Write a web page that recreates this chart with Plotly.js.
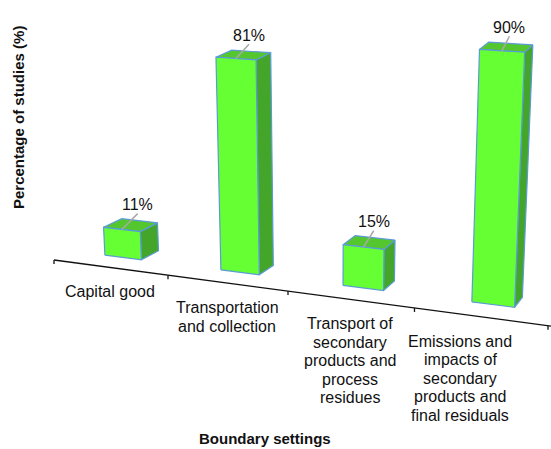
<!DOCTYPE html>
<html>
<head>
<meta charset="utf-8">
<script src="https://cdn.plot.ly/plotly-3.0.1.min.js"></script>
<style>
  html, body { margin: 0; padding: 0; background: #fff; }
  #chart { width: 551px; height: 449px; }
</style>
</head>
<body>
<div id="chart"></div>
<script>
// ---- data ----
const categories = [
  "Capital good",
  "Transportation<br>and collection",
  "Transport of<br>secondary<br>products and<br>process<br>residues",
  "Emissions and<br>impacts of<br>secondary<br>products and<br>final residuals"
];
const percentages = [11, 81, 15, 90];
const xAxisTitle = "Boundary settings";
const yAxisTitle = "Percentage of studies (%)";

// ---- look ----
const W = 551, H = 449;
const FONT = "Liberation Sans, Arial, Helvetica, sans-serif";
const FRONT = "#66ff33", SIDE = "#43a62a", TOP = "#55c72e";
const EDGE = "#5b9bd5";
const LEADER = "#a8a8a8";

// ---- perspective projection of the 3-D column scene ----
// t : position along the category axis (0..n), d : depth of a column (0 front, 1 back),
// z : value in percent.
const AX0 = 54, AXB = 109.8, AXC = -0.025;          // category axis recedes to the left
function axisX(t) { return (AX0 + AXB * t) / (1 + AXC * t); }
function axisY(x) { return 260 + 0.133 * (x - 54); }
function perPct(t) { return 2.505 + 0.09 * t; }      // pixels per percent
function depthX(t) { return 17.6 - 3.1 * (t - 0.5); }
function depthY(t, z) { return (-9 - 0.33 * (t - 0.5)) * (1 - 0.003 * z); }
function frontOffY(t) { return -10 - 0.7 * (t - 0.5); }
const VERT_VX = 330, VERT_DIST = 4700;              // verticals converge far below

function pt(t, d, z) {
  const ax = axisX(t);
  const bx = ax + 12.8 + d * depthX(t);
  const by = axisY(ax) + frontOffY(t) + d * depthY(t, z);
  const hz = z * perPct(t);
  return [bx + hz * (bx - VERT_VX) / VERT_DIST, by - hz];
}

function face(points, color) {
  const xs = points.map(p => p[0]), ys = points.map(p => p[1]);
  xs.push(xs[0]); ys.push(ys[0]);
  return {
    type: "scatter", mode: "lines", x: xs, y: ys,
    fill: "toself", fillcolor: color,
    line: { color: EDGE, width: 1.2 },
    hoverinfo: "skip", showlegend: false
  };
}

const traces = [];
const annotations = [];
const HALF = 0.16;   // half column width in category units

percentages.forEach((v, i) => {
  const c = i + 0.5, t0 = c - HALF, t1 = c + HALF;
  // right side
  traces.push(face([pt(t1, 0, 0), pt(t1, 1, 0), pt(t1, 1, v), pt(t1, 0, v)], SIDE));
  // top
  traces.push(face([pt(t0, 0, v), pt(t1, 0, v), pt(t1, 1, v), pt(t0, 1, v)], TOP));
  // front
  traces.push(face([pt(t0, 0, 0), pt(t1, 0, 0), pt(t1, 0, v), pt(t0, 0, v)], FRONT));

  // value label with leader line
  const end = pt(c, 0, v);
  const lx = end[0] + 0.9 * depthX(c);
  const ly = end[1] + 0.9 * depthY(c, v) - 17;
  traces.push({
    type: "scatter", mode: "lines",
    x: [lx, end[0]], y: [ly + 9, end[1]],
    line: { color: LEADER, width: 1.5 },
    hoverinfo: "skip", showlegend: false
  });
  annotations.push({
    x: lx, y: ly, xref: "x", yref: "y", showarrow: false,
    xanchor: "center", yanchor: "middle",
    text: v + "%", font: { family: FONT, size: 16, color: "#111" }
  });

  // category label, one annotation per line
  const cx = Math.min(axisX(c), 460);
  const firstY = axisY(axisX(c)) + 24.5;
  categories[i].split("<br>").forEach((line, k) => {
    annotations.push({
      x: cx, y: firstY + 18.5 * k, xref: "x", yref: "y", showarrow: false,
      xanchor: "center", yanchor: "middle",
      text: line, font: { family: FONT, size: 16, color: "#111" }
    });
  });
});

// category axis line and ticks
const axXs = [], axYs = [];
for (let t = 0; t <= 4.2; t += 0.05) { const x = axisX(t); axXs.push(x); axYs.push(axisY(x)); }
traces.unshift({
  type: "scatter", mode: "lines", x: axXs, y: axYs,
  line: { color: "#111", width: 1.3 }, hoverinfo: "skip", showlegend: false
});
const tx = [], ty = [];
for (let k = 0; k <= categories.length; k++) {
  const x = axisX(k), y = axisY(x);
  tx.push(x, x, null); ty.push(y, y + 4, null);
}
traces.unshift({
  type: "scatter", mode: "lines", x: tx, y: ty,
  line: { color: "#111", width: 1.3 }, hoverinfo: "skip", showlegend: false
});

// axis titles
annotations.push({
  x: 265, y: 438, xref: "x", yref: "y", showarrow: false,
  xanchor: "center", yanchor: "middle",
  text: xAxisTitle, font: { family: FONT, size: 15, color: "#111", weight: 700 }
});
annotations.push({
  x: 18, y: 118, xref: "x", yref: "y", showarrow: false, textangle: -90,
  xanchor: "center", yanchor: "middle",
  text: yAxisTitle, font: { family: FONT, size: 15, color: "#111", weight: 700 }
});

const layout = {
  width: W, height: H,
  margin: { l: 0, r: 0, t: 0, b: 0, pad: 0 },
  paper_bgcolor: "#fff", plot_bgcolor: "#fff",
  showlegend: false,
  xaxis: { range: [0, W], visible: false, fixedrange: true },
  yaxis: { range: [H, 0], visible: false, fixedrange: true },
  annotations: annotations
};

Plotly.newPlot("chart", traces, layout, { staticPlot: true, displayModeBar: false });
</script>
</body>
</html>
